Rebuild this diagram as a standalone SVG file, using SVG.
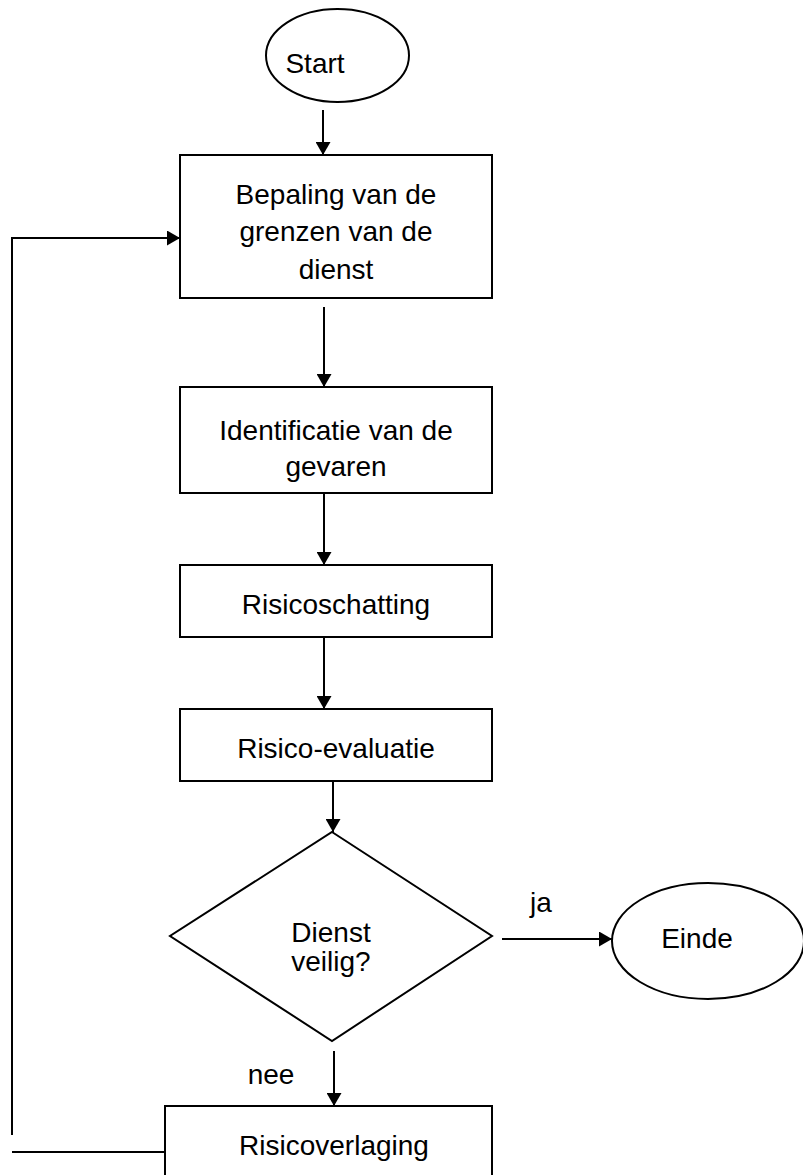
<svg xmlns="http://www.w3.org/2000/svg" width="803" height="1175" viewBox="0 0 803 1175">
<style>
.s{fill:#fff;stroke:#000;stroke-width:2}
.t{font-family:"Liberation Sans",Arial,sans-serif;font-size:28px;fill:#000;text-anchor:middle}
.c{fill:none;stroke:#000;stroke-width:2}
</style>
<defs>
<marker id="ah" markerUnits="userSpaceOnUse" markerWidth="14" markerHeight="15" refX="13" refY="7.5" orient="auto">
<path d="M0,0 L13,7.5 L0,15 z" fill="#000"/>
</marker>
</defs>
<rect width="803" height="1175" fill="#fff"/>
<g id="start">
<ellipse class="s" cx="337.5" cy="55.5" rx="71.5" ry="46.5"/>
<text class="t" x="315" y="73">Start</text>
</g>
<g id="bepaling">
<rect class="s" x="180" y="155" width="312" height="143"/>
<text class="t" x="336" y="204">Bepaling van de</text>
<text class="t" x="336" y="241">grenzen van de</text>
<text class="t" x="336" y="279">dienst</text>
</g>
<g id="identificatie">
<rect class="s" x="180" y="387" width="312" height="106"/>
<text class="t" x="336" y="440">Identificatie van de</text>
<text class="t" x="336" y="476">gevaren</text>
</g>
<g id="schatting">
<rect class="s" x="180" y="565" width="312" height="72"/>
<text class="t" x="336" y="614">Risicoschatting</text>
</g>
<g id="evaluatie">
<rect class="s" x="180" y="709" width="312" height="72"/>
<text class="t" x="336" y="758">Risico-evaluatie</text>
</g>
<g id="beslissing">
<polygon class="s" points="332,832 492,936 332,1041 170,936"/>
<text class="t" x="331" y="942">Dienst</text>
<text class="t" x="331" y="971">veilig?</text>
</g>
<g id="einde">
<ellipse class="s" cx="708" cy="941" rx="96" ry="58"/>
<text class="t" x="697" y="948">Einde</text>
</g>
<g id="verlaging">
<rect class="s" x="165" y="1106" width="327" height="80"/>
<text class="t" x="334" y="1155">Risicoverlaging</text>
</g>
<g id="connectors">
<line class="c" x1="323" y1="110" x2="323" y2="155" marker-end="url(#ah)"/>
<line class="c" x1="324" y1="307" x2="324" y2="387" marker-end="url(#ah)"/>
<line class="c" x1="324" y1="493" x2="324" y2="565" marker-end="url(#ah)"/>
<line class="c" x1="324" y1="637" x2="324" y2="709" marker-end="url(#ah)"/>
<line class="c" x1="333" y1="781" x2="333" y2="832" marker-end="url(#ah)"/>
<line class="c" x1="502" y1="939" x2="612" y2="939" marker-end="url(#ah)"/>
<line class="c" x1="334" y1="1051" x2="334" y2="1106" marker-end="url(#ah)"/>
<polyline class="c" points="12,1135 12,238 180,238" marker-end="url(#ah)"/>
<line class="c" x1="12" y1="1152" x2="165" y2="1152"/>
<text class="t" x="541" y="912">ja</text>
<text class="t" x="271" y="1084">nee</text>
</g>
</svg>
